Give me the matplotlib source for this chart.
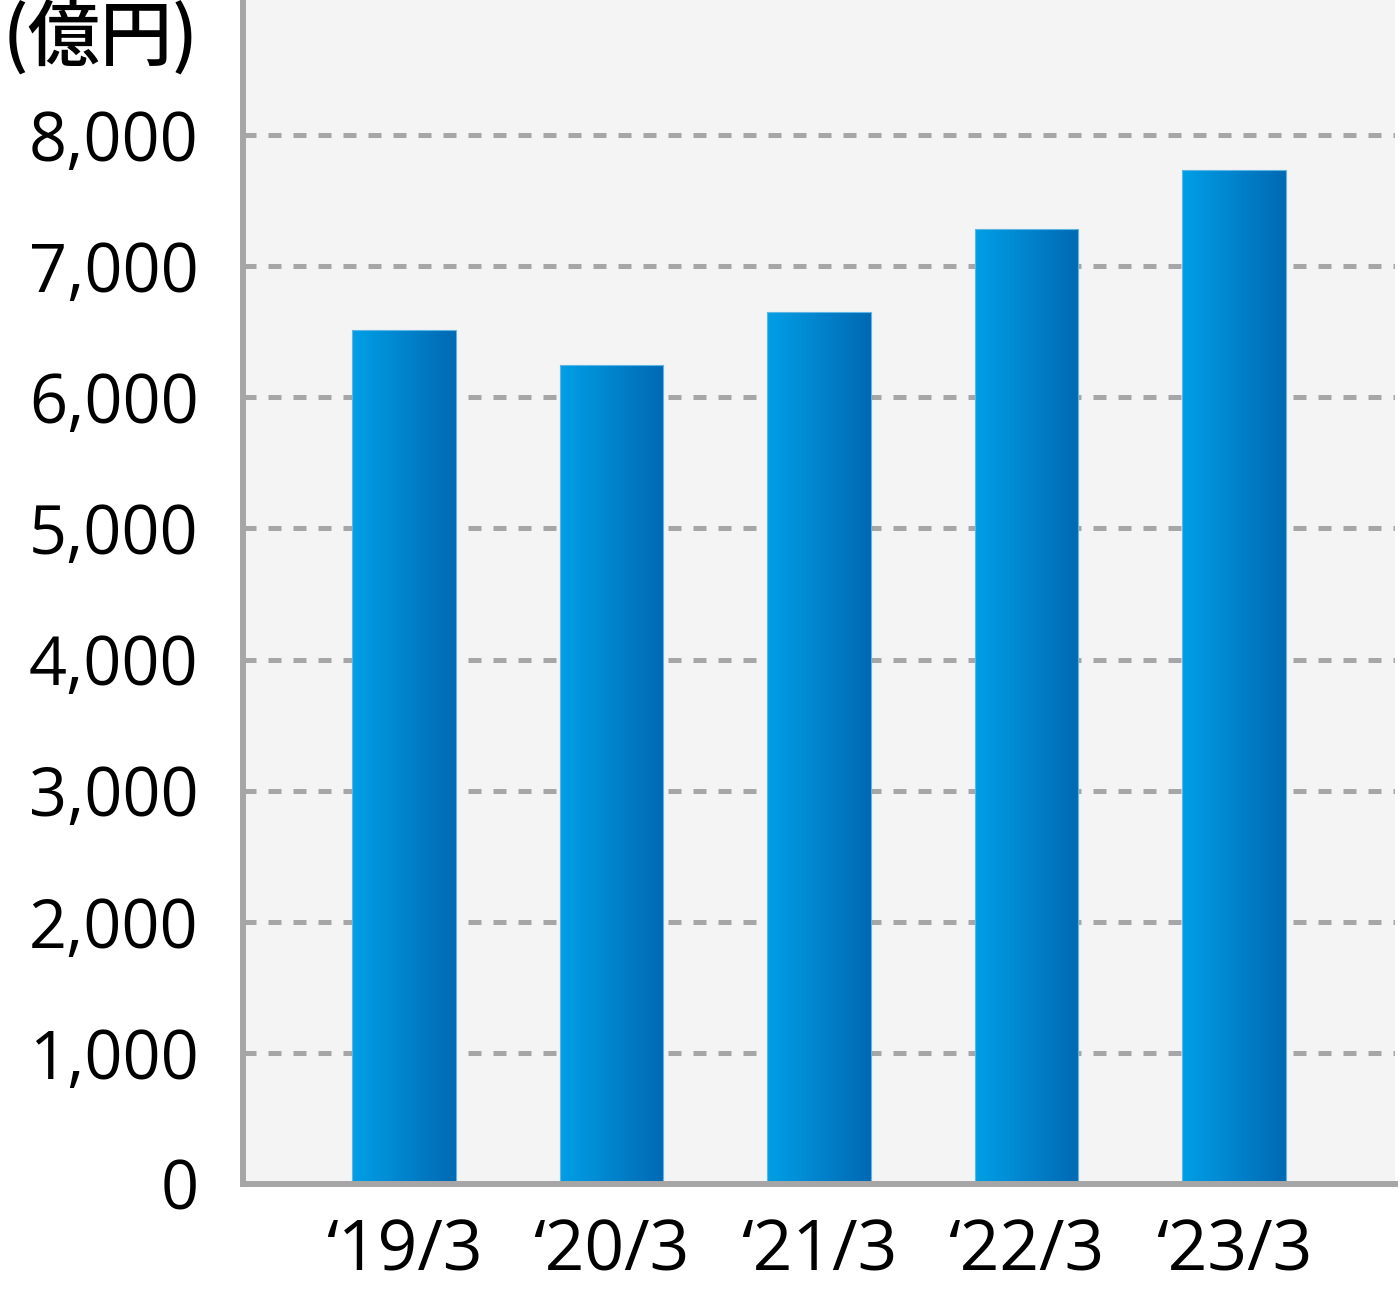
import numpy as np
import matplotlib.pyplot as plt
from matplotlib.colors import LinearSegmentedColormap
from matplotlib.patches import Rectangle

plt.rcParams['font.family'] = ['Open Sans', 'Noto Sans CJK JP', 'DejaVu Sans']
plt.rcParams['font.weight'] = 'medium'

# data (億円)
categories = ["\u201819/3", "\u201820/3", "\u201821/3", "\u201822/3", "\u201823/3"]
values = [6510, 6250, 6650, 7280, 7730]
yticks = [0, 1000, 2000, 3000, 4000, 5000, 6000, 7000, 8000]
unit_label = "(億円)"

fig = plt.figure(figsize=(14, 13.15), dpi=100)
ax = fig.add_axes([0.1736, 0.0996, 0.8228, 0.9004])
ax.set_facecolor("#f4f4f4")

x = np.arange(len(categories))
width = 0.5

# dashed grid behind the bars
for t in yticks[1:]:
    ax.axhline(t, color="#a6a6a6", lw=3.6, ls=(0, (2.6, 2.4)), zorder=1)

# bars with a left-to-right gradient
cmap = LinearSegmentedColormap.from_list("bar", ["#009fe6", "#0069b3"])
grad = np.linspace(0, 1, 256).reshape(1, -1)
for xi, v in zip(x, values):
    bars = ax.bar(xi, v, width=width, color="none", zorder=2)
    im = ax.imshow(grad, cmap=cmap, aspect="auto", zorder=2,
                   extent=(xi - width / 2, xi + width / 2, 0, v))
    im.set_clip_path(bars[0])
    ax.add_patch(Rectangle((xi - width / 2, 0), width, v, fill=False,
                           edgecolor="#5fb6e6", lw=0.8, zorder=3))

ax.set_aspect("auto")
ax.set_xlim(-0.776, len(categories) - 1 + 0.776)
ax.set_ylim(0, 9030)

ax.set_xticks(x)
ax.set_xticklabels(categories, fontsize=50)
ax.set_yticks(yticks)
ax.set_yticklabels([f"{t:,}" for t in yticks], fontsize=48)
ax.tick_params(axis="y", length=0, pad=32)
ax.tick_params(axis="x", length=0, pad=24)

for side in ["top", "right"]:
    ax.spines[side].set_visible(False)
for side in ["left", "bottom"]:
    ax.spines[side].set_color("#a6a6a6")
    ax.spines[side].set_linewidth(4.3)
    ax.spines[side].set_zorder(4)

fig.text(0.002, 0.999, unit_label, fontsize=52, ha="left", va="top",
         family=['Noto Sans CJK JP', 'DejaVu Sans'])

fig.savefig("out.png", dpi=100)
